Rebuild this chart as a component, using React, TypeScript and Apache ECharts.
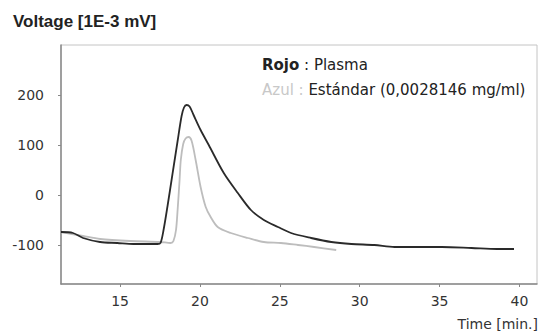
import React, { useEffect, useRef } from "react";
import * as echarts from "echarts";

const xTicks = [15, 20, 25, 30, 35, 40];
const yTicks = [-100, 0, 100, 200];

const plasmaT = [11.3, 12.05, 12.68, 13.75, 14.82, 15.83, 17.34, 17.53, 17.72, 17.97, 18.28, 18.6, 18.85, 19.0, 19.16, 19.35, 19.6, 20.04, 20.55, 21.49, 22.37, 23.19, 24.0, 24.88, 25.7, 26.96, 28.22, 29.48, 30.92, 32.18, 33.88, 35.14, 37.0, 38.6, 39.66];
const plasmaV = [-74, -76, -86, -94, -96, -98, -98, -96, -70, -22, 42, 108, 158, 175, 180, 177, 160, 130, 100, 44, 4, -30, -50, -64, -76, -86, -94, -98, -100, -104, -104, -104, -106, -108, -108];

const estandarT = [11.3, 12.68, 13.75, 15.64, 17.53, 18.16, 18.34, 18.5, 18.6, 18.72, 18.8, 18.95, 19.1, 19.29, 19.48, 19.73, 20.04, 20.36, 20.67, 21.11, 21.93, 23.0, 24.0, 25.07, 26.14, 27.15, 28.53];
const estandarV = [-74, -82, -88, -92, -94, -96, -92, -70, -30, 28, 70, 102, 113, 116, 108, 70, 16, -24, -44, -64, -76, -86, -94, -96, -100, -104, -110];

const pairs = (t: number[], v: number[]) => t.map((x, i) => [x, v[i]]);

export default function App() {
  const ref = useRef<HTMLDivElement>(null);
  useEffect(() => {
    if (!ref.current) return;
    const chart = echarts.init(ref.current, null, { renderer: "svg" });
    const tickFont = { fontFamily: "DejaVu Sans", fontSize: 14, color: "#333" };
    chart.setOption({
      animation: false,
      grid: { left: 61, top: 45, right: 2, bottom: 50, show: true, borderColor: "#c4c4c4", borderWidth: 1, containLabel: false },
      xAxis: {
        type: "value",
        min: 11.3,
        max: 41.1,
        splitLine: { show: false },
        axisLine: { show: true, onZero: false, lineStyle: { color: "#888", width: 1.5 } },
        axisTick: { show: true, length: 3, customValues: xTicks, lineStyle: { color: "#888" } },
        axisLabel: { ...tickFont, margin: 10, customValues: xTicks },
      },
      yAxis: {
        type: "value",
        min: -178,
        max: 300,
        splitLine: { show: false },
        axisLine: { show: true, onZero: false, lineStyle: { color: "#888", width: 1.5 } },
        axisTick: { show: true, length: 3, customValues: yTicks, lineStyle: { color: "#888" } },
        axisLabel: { ...tickFont, margin: 17, customValues: yTicks },
      },
      series: [
        {
          name: "Azul : Estándar",
          type: "line",
          data: pairs(estandarT, estandarV),
          showSymbol: false,
          smooth: 0.3,
          lineStyle: { color: "#bdbdbd", width: 1.8 },
          z: 2,
        },
        {
          name: "Rojo : Plasma",
          type: "line",
          data: pairs(plasmaT, plasmaV),
          showSymbol: false,
          smooth: 0.3,
          lineStyle: { color: "#2a2a2a", width: 1.8 },
          z: 3,
        },
      ],
      graphic: [
        {
          type: "text",
          left: 13,
          top: 13,
          style: { text: "Voltage [1E-3 mV]", fontFamily: "Liberation Sans", fontWeight: "bold", fontSize: 17, fill: "#222" },
        },
        {
          type: "text",
          left: 262,
          top: 57,
          style: {
            text: "{b|Rojo} : Plasma",
            fontFamily: "DejaVu Sans",
            fontSize: 15,
            fill: "#222",
            rich: { b: { fontFamily: "DejaVu Sans", fontSize: 15, fontWeight: "bold", fill: "#222" } },
          },
        },
        {
          type: "text",
          left: 262,
          top: 82,
          style: {
            text: "{g|Azul :} Estándar (0,0028146 mg/ml)",
            fontFamily: "DejaVu Sans",
            fontSize: 15,
            fill: "#222",
            rich: { g: { fontFamily: "DejaVu Sans", fontSize: 15, fill: "#c8c8c8" } },
          },
        },
        {
          type: "text",
          right: 1,
          top: 317,
          style: { text: "Time [min.]", fontFamily: "DejaVu Sans", fontSize: 14, fill: "#333" },
        },
      ],
    });
    return () => chart.dispose();
  }, []);
  return <div ref={ref} style={{ width: 539, height: 334, position: "absolute", left: 0, top: 0 }} />;
}
